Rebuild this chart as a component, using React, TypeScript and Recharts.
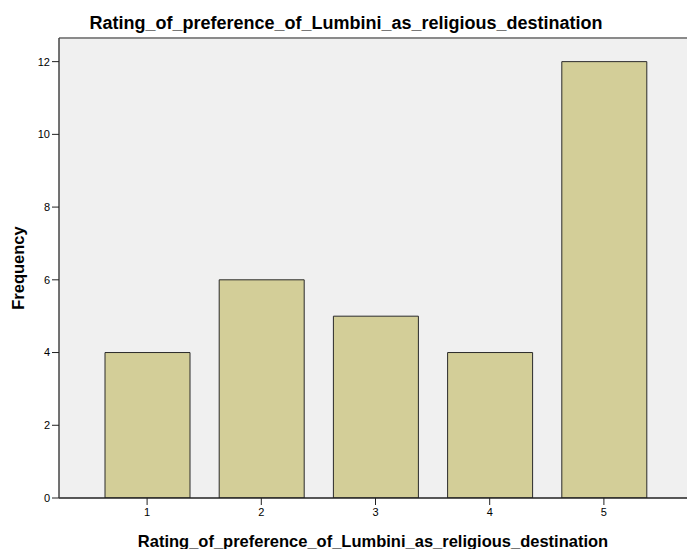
import React from "react";
import {
  Bar,
  BarChart,
  CartesianGrid,
  Label,
  ReferenceLine,
  XAxis,
  YAxis,
} from "recharts";

const ratings = ["1", "2", "3", "4", "5"];
const frequencies = [4, 6, 5, 4, 12];
const yTicks = [0, 2, 4, 6, 8, 10, 12];
const yMax = 12.65;

const title = "Rating_of_preference_of_Lumbini_as_religious_destination";
const xTitle = "Rating_of_preference_of_Lumbini_as_religious_destination";
const yTitle = "Frequency";

const data = ratings.map((r, i) => ({ rating: r, count: frequencies[i] }));

const FONT = "'Liberation Sans', Arial, sans-serif";
const W = 687;
const H = 549;

function XTitle(props: any) {
  const vb = props.viewBox || {};
  return (
    <text
      x={vb.x + vb.width / 2}
      y={vb.y + vb.height - 2}
      textAnchor="middle"
      fontFamily={FONT}
      fontWeight="bold"
      fontSize={16.5}
      fill="#000"
    >
      {xTitle}
    </text>
  );
}

function YTitle(props: any) {
  const vb = props.viewBox || {};
  const cy = vb.y + vb.height / 2 + 0;
  return (
    <text
      transform={`translate(24, ${cy}) rotate(-90)`}
      textAnchor="middle"
      fontFamily={FONT}
      fontWeight="bold"
      fontSize={16.5}
      fill="#000"
    >
      {yTitle}
    </text>
  );
}

export default function App() {
  return (
    <div style={{ position: "absolute", left: 0, top: 0, width: W, height: H, background: "#fff" }}>
      <svg
        width={W}
        height={40}
        style={{ position: "absolute", left: 0, top: 0, pointerEvents: "none" }}
      >
        <text
          x={346}
          y={29}
          textAnchor="middle"
          fontFamily={FONT}
          fontWeight="bold"
          fontSize={18}
          fill="#000"
        >
          {title}
        </text>
      </svg>
      <BarChart
        width={W}
        height={H}
        data={data}
        margin={{ top: 38, right: 0, bottom: 0, left: 0 }}
        barSize={85}
      >
        <CartesianGrid fill="#F0F0F0" horizontal={false} vertical={false} />
        <ReferenceLine y={yMax} stroke="#8a8a8a" strokeWidth={2} ifOverflow="visible" />
        <XAxis
          dataKey="rating"
          height={51}
          padding={{ left: 31, right: 26 }}
          tickSize={7}
          tickMargin={3}
          tick={{ fontSize: 11, fill: "#000", fontFamily: FONT }}
          axisLine={{ stroke: "#222", strokeWidth: 1.5 }}
          tickLine={{ stroke: "#222" }}
        >
          <Label content={<XTitle />} />
        </XAxis>
        <YAxis
          width={59}
          domain={[0, yMax]}
          ticks={yTicks}
          allowDataOverflow
          tickSize={7}
          tickMargin={2}
          tick={{ fontSize: 11, fill: "#000", fontFamily: FONT }}
          axisLine={{ stroke: "#444", strokeWidth: 1.5 }}
          tickLine={{ stroke: "#222" }}
        >
          <Label content={<YTitle />} />
        </YAxis>
        <Bar
          dataKey="count"
          fill="#D3CE98"
          stroke="#2a2a2a"
          strokeWidth={1}
          isAnimationActive={false}
        />
      </BarChart>
    </div>
  );
}
